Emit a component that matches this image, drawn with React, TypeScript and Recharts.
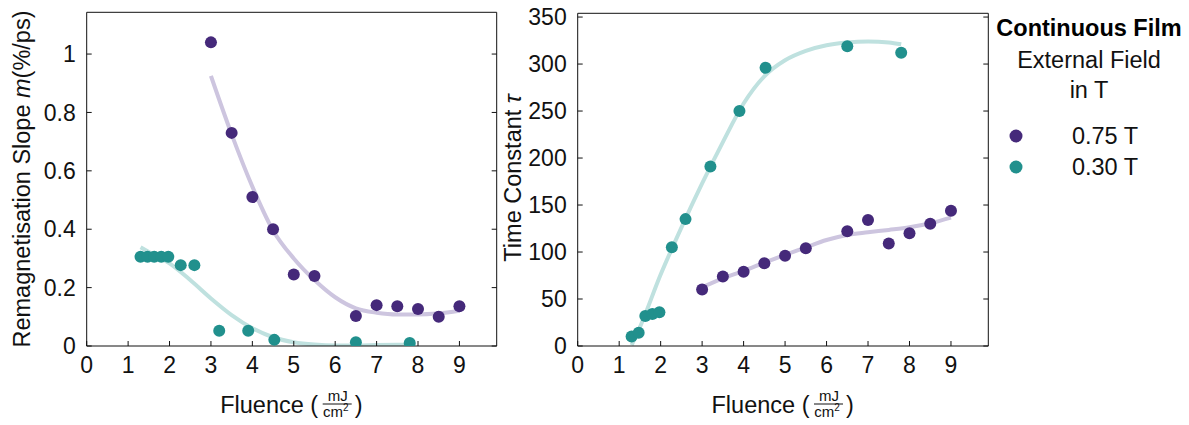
import { ComposedChart, Scatter, Line, XAxis, YAxis, Legend } from 'recharts';

// measured points, 0.75 T
const fluence075 = [3, 3.5, 4, 4.5, 5, 5.5, 6.5, 7, 7.5, 8, 8.5, 9];
const slope075 = [1.04, 0.73, 0.51, 0.4, 0.245, 0.24, 0.103, 0.14, 0.136, 0.127, 0.1, 0.136];
const tau075 = [60, 74, 79, 88, 96, 104, 122, 134, 109, 120, 130, 144];

// measured points, 0.30 T
const fluence030 = [1.3, 1.47, 1.63, 1.8, 1.97, 2.27, 2.6, 3.2, 3.9, 4.53, 6.5, 7.8];
const slope030 = [0.306, 0.306, 0.306, 0.306, 0.306, 0.277, 0.277, 0.052, 0.052, 0.021, 0.013, 0.01];
const tau030 = [10, 14, 32, 34, 36, 105, 135, 191, 250, 296, 319, 312];

// fit curves
const fitX075 = [3, 3.5, 4, 4.5, 5, 5.5, 6, 6.5, 7, 7.5, 8, 8.5, 9];
const fitSlope075 = [0.925, 0.725, 0.546, 0.396, 0.3, 0.226, 0.167, 0.129, 0.114, 0.108, 0.108, 0.112, 0.121];
const fitTau075 = [62.5, 72, 80, 88.7, 97, 105, 112.8, 118.2, 121, 123.5, 126.3, 130.6, 136.6];

const fitX030 = [1.3, 1.5, 2, 2.5, 3, 3.5, 4, 4.5, 5, 5.5, 6, 6.5, 7, 7.5, 7.8];
const fitSlope030 = [0.338, 0.322, 0.283, 0.226, 0.163, 0.106, 0.061, 0.03, 0.013, 0.005, 0.002, 0.002, 0.003, 0.004, 0.005];
const fitTau030 = [1, 20, 76, 126, 173, 217, 258, 287, 304, 314, 320, 323, 324, 323, 321];

const xTicks = [0, 1, 2, 3, 4, 5, 6, 7, 8, 9];
const slopeTicks = [0, 0.2, 0.4, 0.6, 0.8, 1];
const tauTicks = [0, 50, 100, 150, 200, 250, 300, 350];
const legendOrder = ['0.75 T', '0.30 T'];

const PURPLE = '#45297a';
const TEAL = '#21908d';
const PURPLE_FIT = '#cdc5df';
const TEAL_FIT = '#bfe1df';

const zip = (xs: number[], ys: number[]) => xs.map((x, i) => ({ x, y: ys[i] }));

const tickStyle = { fontSize: 23, fill: '#111' };
const noLabel = () => <g />;

const dot = (color: string) => (p: any) => <circle cx={p.cx} cy={p.cy} r={6} fill={color} />;

function FluenceTitle({ cx }: { cx: number }) {
  return (
    <g fill="#111">
      <text x={cx - 71.5} y={413} fontSize={23.5}>Fluence (</text>
      <text x={cx + 46} y={401} fontSize={15} textAnchor="middle">mJ</text>
      <line x1={cx + 31} x2={cx + 60} y1={404} y2={404} stroke="#111" strokeWidth={1} />
      <text x={cx + 44} y={417} fontSize={15} textAnchor="middle">cm<tspan fontSize={10} dy={-6}>2</tspan></text>
      <text x={cx + 63} y={413} fontSize={23.5}>)</text>
    </g>
  );
}

function LegendBox({ payload }: any) {
  const items = (payload || [])
    .filter((p: any) => p.type !== 'none')
    .sort((a: any, b: any) => legendOrder.indexOf(a.value) - legendOrder.indexOf(b.value));
  return (
    <svg width={199} height={190} style={{ fontFamily: '"Liberation Sans", Arial, sans-serif' }}>
      <text x={99} y={28} fontSize={23.5} fontWeight="bold" textAnchor="middle" dominantBaseline="central" fill="#000">Continuous Film</text>
      <text x={99} y={60} fontSize={23.5} textAnchor="middle" dominantBaseline="central" fill="#111">External Field</text>
      <text x={99} y={90} fontSize={23.5} textAnchor="middle" dominantBaseline="central" fill="#111">in T</text>
      {items.map((p: any, i: number) => (
        <g key={p.value}>
          <circle cx={26} cy={136 + i * 31} r={6.5} fill={p.color} />
          <text x={115} y={136 + i * 31} fontSize={23.5} textAnchor="middle" dominantBaseline="central" fill="#111">{p.value}</text>
        </g>
      ))}
    </svg>
  );
}

export default function App() {
  return (
    <div style={{ position: 'absolute', left: 0, top: 0, width: 1189, height: 425, background: '#fff', fontFamily: '"Liberation Sans", Arial, sans-serif' }}>
      <div style={{ position: 'absolute', left: 0, top: 0 }}>
        <ComposedChart width={520} height={425} margin={{ top: 7.3, right: 13.3, bottom: 19, left: 36.7 }}>
          <XAxis dataKey="x" type="number" domain={[0, 9.9]} ticks={xTicks} interval={0} allowDataOverflow
            stroke="#111" tickSize={-5} tickMargin={16} tick={tickStyle} height={60}
            label={() => <FluenceTitle cx={291.7} />} />
          <XAxis xAxisId="top" orientation="top" type="number" domain={[0, 9.9]} ticks={xTicks} interval={0} allowDataOverflow
            stroke="#111" tickSize={-5} tick={noLabel} height={5} />
          <YAxis type="number" domain={[0, 1.143]} ticks={slopeTicks} interval={0} allowDataOverflow
            stroke="#111" tickSize={-5} tickMargin={16} tick={tickStyle} width={50}
            label={() => (
              <text x={22} y={179} transform="rotate(-90 22 179)" fontSize={23.5} textAnchor="middle" dominantBaseline="central" fill="#111">
                Remagnetisation Slope <tspan fontStyle="italic">m</tspan>(%/ps)
              </text>
            )} />
          <YAxis yAxisId="r" orientation="right" type="number" domain={[0, 1.143]} ticks={slopeTicks} interval={0} allowDataOverflow
            stroke="#111" tickSize={-5} tick={noLabel} width={10} />
          <Line data={zip(fitX075, fitSlope075)} dataKey="y" type="monotone" stroke={PURPLE_FIT} strokeWidth={4} dot={false} activeDot={false} legendType="none" isAnimationActive={false} />
          <Line data={zip(fitX030, fitSlope030)} dataKey="y" type="monotone" stroke={TEAL_FIT} strokeWidth={4} dot={false} activeDot={false} legendType="none" isAnimationActive={false} />
          <Scatter name="0.75 T" data={zip(fluence075, slope075)} dataKey="y" fill={PURPLE} shape={dot(PURPLE)} isAnimationActive={false} />
          <Scatter name="0.30 T" data={zip(fluence030, slope030)} dataKey="y" fill={TEAL} shape={dot(TEAL)} isAnimationActive={false} />
        </ComposedChart>
      </div>
      <div style={{ position: 'absolute', left: 490, top: 0 }}>
        <ComposedChart width={699} height={425} margin={{ top: 8.3, right: 190.7, bottom: 19, left: 27.7 }}>
          <XAxis dataKey="x" type="number" domain={[0, 9.9]} ticks={xTicks} interval={0} allowDataOverflow
            stroke="#111" tickSize={-5} tickMargin={16} tick={tickStyle} height={60}
            label={() => <FluenceTitle cx={293} />} />
          <XAxis xAxisId="top" orientation="top" type="number" domain={[0, 9.9]} ticks={xTicks} interval={0} allowDataOverflow
            stroke="#111" tickSize={-5} tick={noLabel} height={5} />
          <YAxis type="number" domain={[0, 354]} ticks={tauTicks} interval={0} allowDataOverflow
            stroke="#111" tickSize={-5} tickMargin={16} tick={tickStyle} width={60}
            label={() => (
              <text x={23} y={178} transform="rotate(-90 23 178)" fontSize={23.5} textAnchor="middle" dominantBaseline="central" fill="#111">
                Time Constant <tspan fontStyle="italic">τ</tspan>
              </text>
            )} />
          <YAxis yAxisId="r" orientation="right" type="number" domain={[0, 354]} ticks={tauTicks} interval={0} allowDataOverflow
            stroke="#111" tickSize={-5} tick={noLabel} width={10} />
          <Line data={zip(fitX030, fitTau030)} dataKey="y" type="monotone" stroke={TEAL_FIT} strokeWidth={4} dot={false} activeDot={false} legendType="none" isAnimationActive={false} />
          <Line data={zip(fitX075, fitTau075)} dataKey="y" type="monotone" stroke={PURPLE_FIT} strokeWidth={4} dot={false} activeDot={false} legendType="none" isAnimationActive={false} />
          <Scatter name="0.75 T" data={zip(fluence075, tau075)} dataKey="y" fill={PURPLE} shape={dot(PURPLE)} isAnimationActive={false} />
          <Scatter name="0.30 T" data={zip(fluence030, tau030)} dataKey="y" fill={TEAL} shape={dot(TEAL)} isAnimationActive={false} />
          <Legend layout="vertical" align="center" verticalAlign="middle" content={LegendBox}
            wrapperStyle={{ left: 500, top: 0, width: 199, height: 190 }} />
        </ComposedChart>
      </div>
    </div>
  );
}
